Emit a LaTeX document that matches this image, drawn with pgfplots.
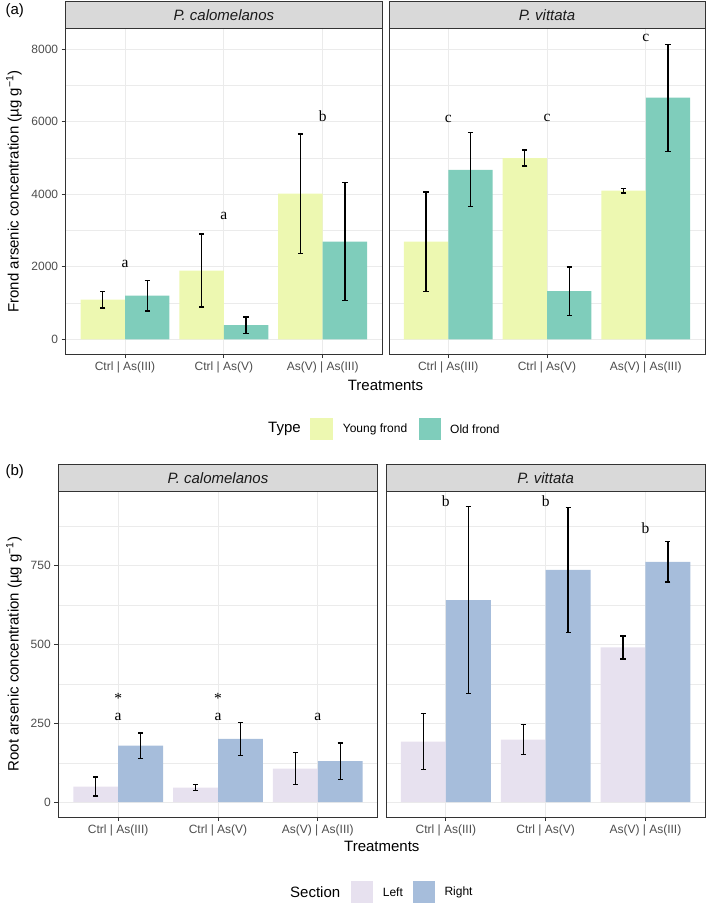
\documentclass[border=0pt]{standalone}
\usepackage{pgfplots}
\pgfplotsset{compat=1.18}
\usepackage{fontspec}
\setmainfont{Liberation Sans}
\newfontfamily\serif{Liberation Serif}
\definecolor{young}{HTML}{EDF8B1}
\definecolor{old}{HTML}{7FCDBB}
\definecolor{leftc}{HTML}{E7E1EF}
\definecolor{rightc}{HTML}{A6BDDB}
\definecolor{gridc}{HTML}{EBEBEB}
\definecolor{g20}{HTML}{333333}
\definecolor{g30}{HTML}{4D4D4D}
\definecolor{g85}{HTML}{D9D9D9}
\definecolor{g10}{HTML}{1A1A1A}
\tikzset{lab/.style={font=\serif\fontsize{15.5}{15.5}\selectfont, text=black}}
\pgfplotsset{
  panel/.style={
    scale only axis, height=325pt,
    xmin=0.4, xmax=3.6,
    xtick={1,2,3}, xticklabels={Ctrl | As(III), Ctrl | As(V), As(V) | As(III)},
    axis line style={g20, line width=1pt},
    tick align=outside, major tick length=4pt, minor tick length=0pt,
    tick style={g20, line width=0.8pt},
    xtick pos=bottom, ytick pos=left,
    xmajorgrids, ymajorgrids, yminorgrids,
    major grid style={gridc, line width=0.9pt},
    minor grid style={gridc, line width=0.5pt},
    tick label style={font=\fontsize{12}{14}\selectfont, text=g30},
    /pgf/number format/assume math mode=true,
    /pgf/number format/1000 sep={},
  },
  topy/.style={ymin=-405, ymax=8560, ytick={0,2000,4000,6000,8000}, minor ytick={1000,3000,5000,7000}},
  boty/.style={ymin=-47, ymax=985, ytick={0,250,500,750}, minor ytick={125,375,625,875}},
  noy/.style={yticklabels={}, y tick style={draw=none}},
  mybar/.style={ybar, bar width=0.45, bar shift=0pt, draw=none, fill=#1,
    error bars/.cd, y dir=both, y explicit,
    error bar style={black, line width=1.3pt},
    error mark options={rotate=90, mark size=2.6pt, line width=1.3pt, black}},
}
\begin{document}
\begin{tikzpicture}
\path[use as bounding box] (0,0) rectangle (708pt,-904pt);

% ---------- (a) top left
\begin{axis}[panel, topy, width=316.3pt, at={(65.7pt,-354pt)}, anchor=south west]
\addplot[mybar=young] coordinates {(0.775,1092) +- (0,224) (1.775,1898) +- (0,1008) (2.775,4017) +- (0,1650)};
\addplot[mybar=old] coordinates {(1.225,1202) +- (0,420) (2.225,394) +- (0,225) (3.225,2696) +- (0,1629)};
\node[lab] at (axis cs:1,2071) {a};
\node[lab] at (axis cs:2,3392) {a};
\node[lab] at (axis cs:3,6143) {b};
\end{axis}

% ---------- (a) top right
\begin{axis}[panel, topy, noy, width=316pt, at={(389pt,-354pt)}, anchor=south west]
\addplot[mybar=young] coordinates {(0.775,2696) +- (0,1371) (1.775,5000) +- (0,220) (2.775,4099) +- (0,60)};
\addplot[mybar=old] coordinates {(1.225,4677) +- (0,1022) (2.225,1329) +- (0,666) (3.225,6666) +- (0,1476)};
\node[lab] at (axis cs:1,6080) {c};
\node[lab] at (axis cs:2,6107) {c};
\node[lab] at (axis cs:3,8308) {c};
\end{axis}

% ---------- (b) bottom left
\begin{axis}[panel, boty, width=319.4pt, height=325.3pt, at={(58.3pt,-817pt)}, anchor=south west]
\addplot[mybar=leftc] coordinates {(0.775,49.7) +- (0,30.5) (1.775,46.6) +- (0,10) (2.775,106.8) +- (0,50.7)};
\addplot[mybar=rightc] coordinates {(1.225,179.7) +- (0,40) (2.225,200.9) +- (0,52.7) (3.225,129.9) +- (0,57.5)};
\node[lab] at (axis cs:1,272) {a};
\node[lab] at (axis cs:2,272) {a};
\node[lab] at (axis cs:3,270) {a};
\node[lab, anchor=base] at (axis cs:1,312) {*};
\node[lab, anchor=base] at (axis cs:2,312) {*};
\end{axis}

% ---------- (b) bottom right
\begin{axis}[panel, boty, noy, width=319.3pt, height=325.3pt, at={(386pt,-817pt)}, anchor=south west]
\addplot[mybar=leftc] coordinates {(0.775,192.3) +- (0,88.7) (1.775,198.7) +- (0,48.5) (2.775,491.1) +- (0,36.5)};
\addplot[mybar=rightc] coordinates {(1.225,641.3) +- (0,297) (2.225,737.3) +- (0,198) (3.225,762.7) +- (0,64.5)};
\node[lab] at (axis cs:1,954) {b};
\node[lab] at (axis cs:2,954) {b};
\node[lab] at (axis cs:3,868) {b};
\end{axis}

% ---------- strips
\tikzset{strip/.style={fill=g85, draw=g20, line width=1pt}, striptext/.style={font=\itshape\fontsize{15}{15}\selectfont, text=g10}}
\draw[strip] (65.7pt,-2pt) rectangle (382pt,-29pt);
\node[striptext] at (223.85pt,-15.5pt) {P. calomelanos};
\draw[strip] (389pt,-2pt) rectangle (705pt,-29pt);
\node[striptext] at (547pt,-15.5pt) {P. vittata};
\draw[strip] (58.3pt,-464.3pt) rectangle (377.7pt,-491.7pt);
\node[striptext] at (218pt,-478pt) {P. calomelanos};
\draw[strip] (386pt,-464.3pt) rectangle (705.3pt,-491.7pt);
\node[striptext] at (545.65pt,-478pt) {P. vittata};

% ---------- titles
\tikzset{ttl/.style={font=\fontsize{15}{15}\selectfont, text=black}}
\node[ttl, anchor=west] at (2pt,-11pt) {(a)};
\node[ttl, anchor=west] at (2pt,-471.7pt) {(b)};
\node[ttl] at (385.5pt,-385pt) {Treatments};
\node[ttl] at (381.8pt,-846.7pt) {Treatments};
\node[ttl, rotate=90] at (14pt,-191.5pt) {Frond arsenic concentration (µg g\textsuperscript{−1})};
\node[ttl, rotate=90] at (14pt,-654pt) {Root arsenic concentration (µg g\textsuperscript{−1})};

% ---------- legends
\tikzset{lt/.style={font=\fontsize{12}{14}\selectfont, text=black, anchor=west, inner sep=0pt}}
\node[ttl, anchor=west, inner sep=0pt] at (268pt,-429pt) {Type};
\fill[young] (310pt,-417.5pt) rectangle (332.7pt,-440.2pt);
\node[lt] at (342.7pt,-429pt) {Young frond};
\fill[old] (418.7pt,-417.5pt) rectangle (441.4pt,-440.2pt);
\node[lt] at (450pt,-429pt) {Old frond};

\node[ttl, anchor=west, inner sep=0pt] at (290pt,-892pt) {Section};
\fill[leftc] (350.7pt,-880.7pt) rectangle (373.4pt,-903.4pt);
\node[lt] at (382.7pt,-892pt) {Left};
\fill[rightc] (412.7pt,-880.7pt) rectangle (435.4pt,-903.4pt);
\node[lt] at (444.3pt,-892pt) {Right};
\end{tikzpicture}
\end{document}
